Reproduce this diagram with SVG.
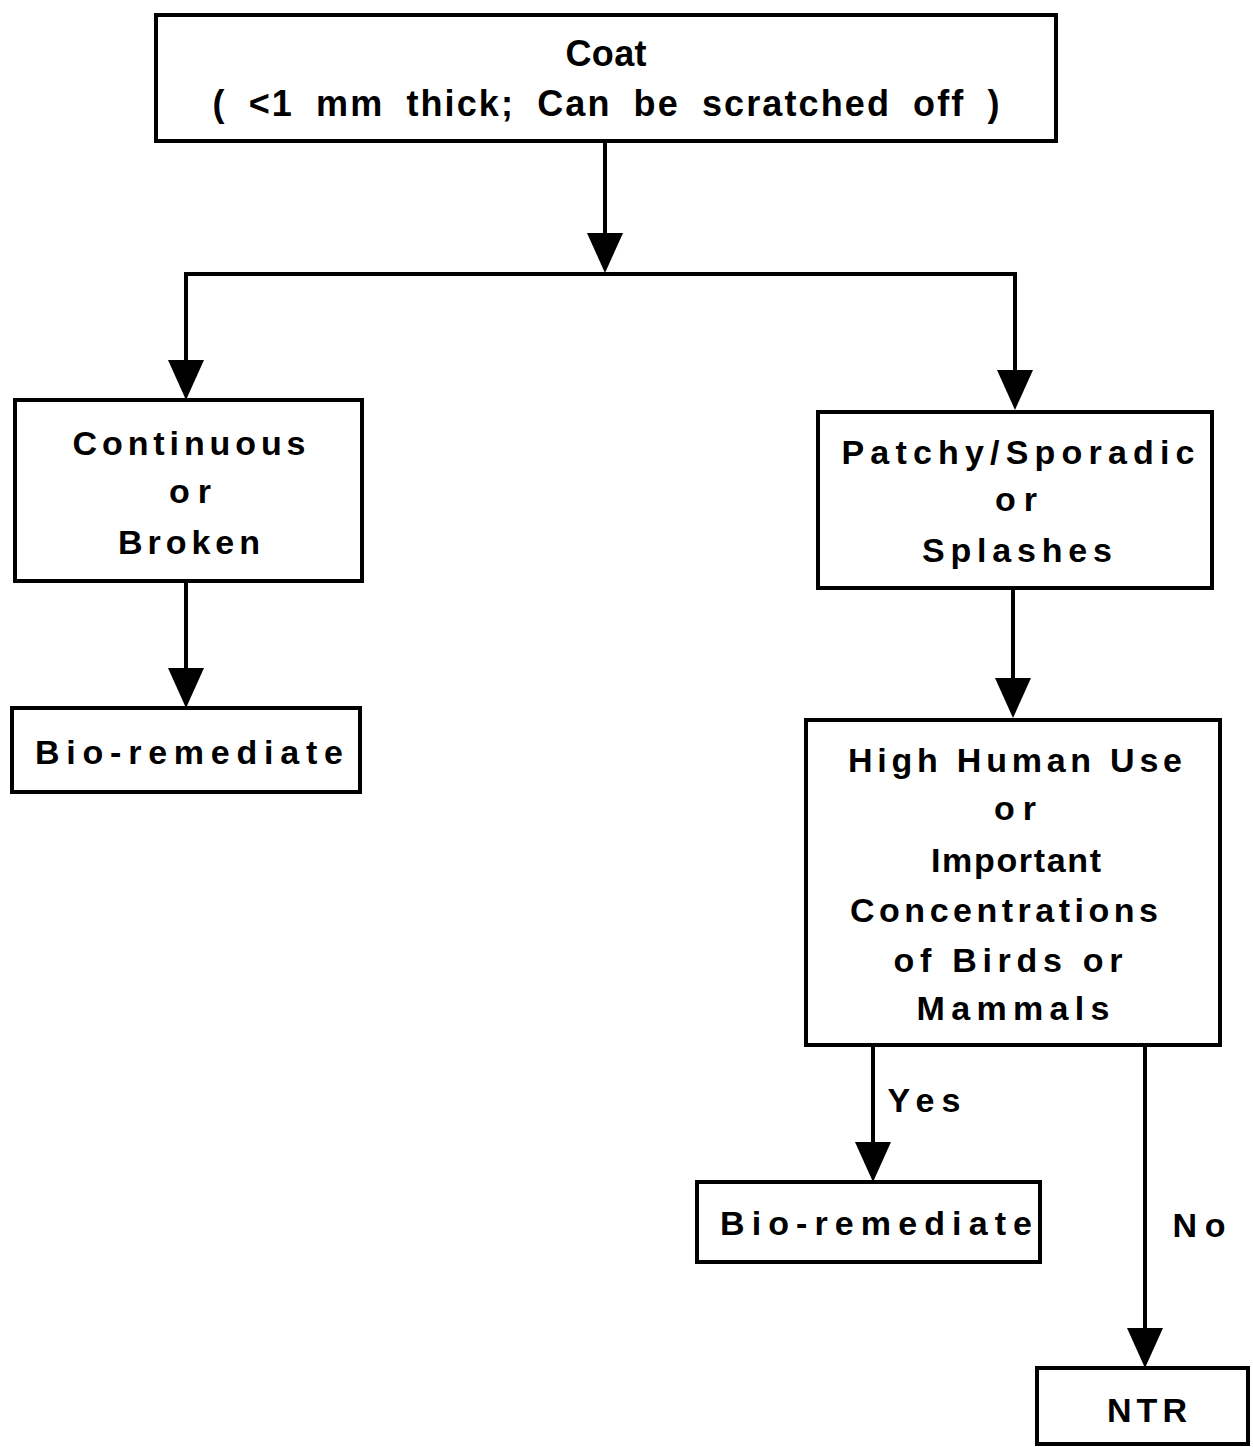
<svg xmlns="http://www.w3.org/2000/svg" width="1253" height="1447" viewBox="0 0 1253 1447">
<style>
.box{fill:#fff;stroke:#000;stroke-width:4}
.con{fill:none;stroke:#000;stroke-width:4}
.t{font-family:"Liberation Sans",Arial,Helvetica,sans-serif;font-weight:bold;font-size:34px;fill:#000;text-anchor:middle}
.big{font-size:36px}
</style>
<defs>
<marker id="arr" markerUnits="userSpaceOnUse" viewBox="0 0 40 36" markerWidth="40" markerHeight="36" refX="30" refY="18" orient="auto">
<path d="M0,0 L40,18 L0,36 Z" fill="#000"/>
</marker>
</defs>
<rect width="1253" height="1447" fill="#fff"/>
<g id="connectors">
<path class="con" d="M605,141 V263" marker-end="url(#arr)"/>
<path class="con" d="M605,274 H186 V390" marker-end="url(#arr)"/>
<path class="con" d="M605,274 H1015 V400" marker-end="url(#arr)"/>
<path class="con" d="M186,581 V698" marker-end="url(#arr)"/>
<path class="con" d="M1013,588 V708" marker-end="url(#arr)"/>
<path class="con" d="M873,1045 V1172" marker-end="url(#arr)"/>
<path class="con" d="M1145,1045 V1358" marker-end="url(#arr)"/>
<text class="t" x="924" y="1112" textLength="73" lengthAdjust="spacing">Yes</text>
<text class="t" x="1199" y="1237" textLength="53" lengthAdjust="spacing">No</text>
</g>
<g id="coat">
<rect class="box" x="156" y="15" width="900" height="126"/>
<text class="t big" x="606" y="66" textLength="81" lengthAdjust="spacing">Coat</text>
<text class="t big" x="606" y="116" word-spacing="10" textLength="787" lengthAdjust="spacing">( &lt;1 mm thick; Can be scratched off )</text>
</g>
<g id="continuous">
<rect class="box" x="15" y="400" width="347" height="181"/>
<text class="t" x="189" y="455" textLength="233" lengthAdjust="spacing">Continuous</text>
<text class="t" x="190" y="503" textLength="42" lengthAdjust="spacing">or</text>
<text class="t" x="189" y="554" textLength="142" lengthAdjust="spacing">Broken</text>
</g>
<g id="bio1">
<rect class="box" x="12" y="708" width="348" height="84"/>
<text class="t" x="189" y="764" textLength="308" lengthAdjust="spacing">Bio-remediate</text>
</g>
<g id="patchy">
<rect class="box" x="818" y="412" width="394" height="176"/>
<text class="t" x="1018" y="464" textLength="353" lengthAdjust="spacing">Patchy/Sporadic</text>
<text class="t" x="1016" y="511" textLength="42" lengthAdjust="spacing">or</text>
<text class="t" x="1017" y="562" textLength="190" lengthAdjust="spacing">Splashes</text>
</g>
<g id="highuse">
<rect class="box" x="806" y="720" width="414" height="325"/>
<text class="t" x="1015" y="772" textLength="334" lengthAdjust="spacing">High Human Use</text>
<text class="t" x="1015" y="820" textLength="42" lengthAdjust="spacing">or</text>
<text class="t" x="1016" y="872" textLength="170" lengthAdjust="spacing">Important</text>
<text class="t" x="1004" y="922" textLength="308" lengthAdjust="spacing">Concentrations</text>
<text class="t" x="1008" y="972" textLength="229" lengthAdjust="spacing">of Birds or</text>
<text class="t" x="1013" y="1020" textLength="193" lengthAdjust="spacing">Mammals</text>
</g>
<g id="bio2">
<rect class="box" x="697" y="1182" width="343" height="80"/>
<text class="t" x="876" y="1235" textLength="312" lengthAdjust="spacing">Bio-remediate</text>
</g>
<g id="ntr">
<rect class="box" x="1037" y="1368" width="211" height="76"/>
<text class="t" x="1147" y="1422" textLength="80" lengthAdjust="spacing">NTR</text>
</g>
</svg>
